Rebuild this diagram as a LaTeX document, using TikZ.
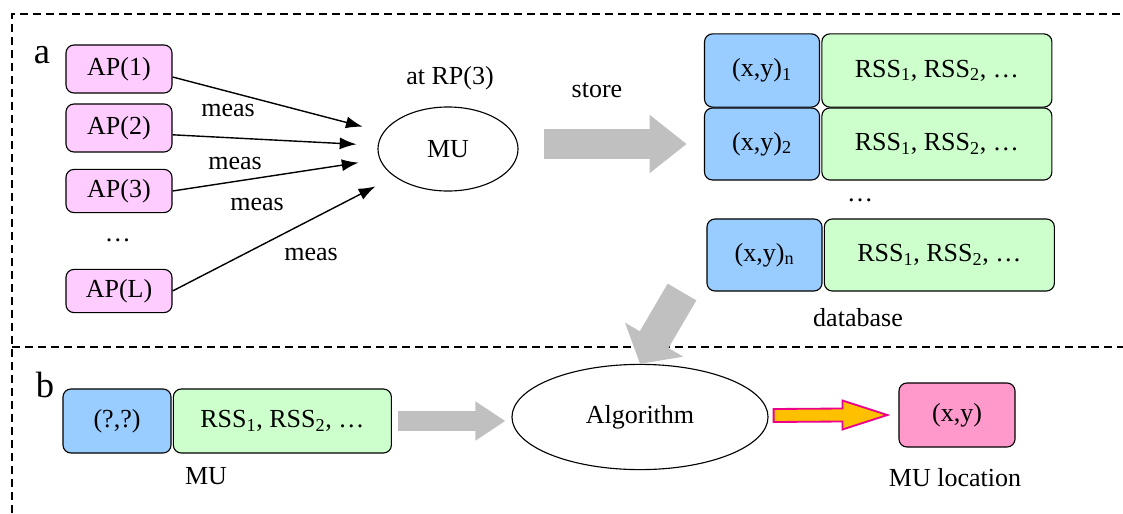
\documentclass[tikz,border=0pt]{standalone}
\usepackage{fontspec}
\setmainfont{Liberation Serif}
\usepackage{tikz}
\usetikzlibrary{positioning, calc, arrows.meta, %
    shapes.geometric % for the ellipses
    }
\definecolor{apPink}{HTML}{FFCCFF}
\definecolor{xyBlue}{HTML}{99CCFF}
\definecolor{rssGreen}{HTML}{CCFFCC}
\definecolor{locPink}{HTML}{FF99CC}
\definecolor{bigGray}{HTML}{C0C0C0}
\definecolor{locOrange}{HTML}{FFC000}

\begin{document}
\begin{tikzpicture}[
        x=0.025cm, y=-0.025cm,
        font=\fontsize{18.5}{21}\selectfont,
        apbox/.style={draw, line width=0.8pt, fill=apPink, rounded corners=0.2cm, minimum width=2.65cm, minimum height=1.2cm, inner sep=0pt},
        xybox/.style={draw, line width=0.8pt, fill=xyBlue, rounded corners=0.2cm, minimum width=2.875cm, minimum height=1.8cm, inner sep=0pt},
        rssbox/.style={draw, line width=0.8pt, fill=rssGreen, rounded corners=0.2cm, minimum width=5.75cm, minimum height=1.8cm, inner sep=0pt},
        oval/.style={draw, line width=0.8pt, ellipse, inner sep=0pt},
        measarrow/.style={-{Latex[length=0.42cm, width=0.3cm]}, line width=1pt, shorten >=0.53cm},
        bigarrow/.style={draw=bigGray, line width=0.83cm, -{Triangle[length=0.7cm, width=1.65cm]}},
        frame/.style={line width=0.8pt, dash pattern=on 0.2cm off 0.125cm}
        % sublabel/.style={},
    ]
        \def\bigfont{\fontsize{26}{28}\selectfont}
        \newcommand{\measArr}{edge[measarrow]}
        \newcommand{\rssList}{RSS\textsubscript{1}, RSS\textsubscript{2}, \dots}

        \useasboundingbox (0,0) rectangle (1123,513);
        \draw[frame] (12,513) |- (1123,14);
        \draw[frame] (12,347) -- (1123,347);
        \node[inner sep=0pt] (lblA) at (42,55) {\bigfont a};
        \node[inner sep=0pt] (lblB) at (45,385) {\bigfont b};

        % part a: measuring
        \node[apbox] (ap1) at (119,69) {AP(1)};
        \node[apbox] (ap2) at (119,128) {AP(2)};
        \node[apbox, minimum height=1.08cm] (ap3) at (119,191) {AP(3)};
        \node (apdots) at (118,240) {\dots};
        \node[apbox, minimum height=1.08cm] (apL) at (119,291) {AP(L)};
        \node[oval, minimum width=3.5cm, minimum height=2.1cm] (mu) at (448,149) {MU};
        \node (atrp) at (450,78) {at RP(3)};
        \draw
            ([yshift=-0.2cm]ap1.east) \measArr (mu)
            ([yshift=-0.17cm]ap2.east) \measArr (mu)
            (ap3.east) \measArr (mu)
            (apL.east) \measArr (mu)
            ;
        \node (meas1) at (228,110) {meas};
        \node (meas2) at (235,163) {meas};
        \node (meas3) at (257,204) {meas};
        \node (meas4) at (311,254) {meas};

        % database
        \node[xybox, minimum height=1.83cm] (xy1) at (762,70.5) {(x,y)\textsubscript{1}};
        \node[rssbox, minimum height=1.83cm, right=0.03cm of xy1] (rss1) {\rssList};
        \node[xybox] (xy2) at (762,144) {(x,y)\textsubscript{2}};
        \node[rssbox, right=0.03cm of xy2] (rss2) {\rssList};
        \node (dbdots) at (860,200) {\dots};
        \node[xybox] (xyn) at (764.5,255) {(x,y)\textsubscript{n}};
        \node[rssbox, right=0.03cm of xyn] (rssn) {\rssList};
        \node (dblabel) at (858,318) {database};
        \node (store) at (597,90) {store};
        \draw[bigarrow, line width=0.73cm, -{Triangle[length=0.93cm, width=1.4cm]}, shorten <=0.63cm, shorten >=0.43cm]
            (xy2.west -| mu.east) -- (xy2.west);

        % part b: positioning
        \node[xybox, minimum width=2.7cm, minimum height=1.6cm] (qq) at (117,421) {(?,?)};
        \node[rssbox, minimum width=5.45cm, minimum height=1.6cm, right=0.03cm of qq] (rssmu) {\rssList};
        \node (mulabel) at (206,476) {MU};
        \node[oval, minimum width=6.4cm, minimum height=2.63cm] (algo) at (640,417) {Algorithm};
        \node[draw, line width=0.8pt, fill=locPink, rounded corners=0.2cm, minimum width=2.9cm, minimum height=1.6cm] (loc) at (957,415) {(x,y)};
        \node (loclabel) at (955,478) {MU location};
        \coordinate (dbfoot) at (682,292);
        \draw[bigarrow, line width=0.48cm, -{Triangle[length=0.75cm, width=0.93cm]}, shorten <=0.15cm, shorten >=0.15cm]
            (rssmu.east) -- (rssmu.east -| algo.west);
        \draw[bigarrow] (dbfoot) -- (algo.north);
        \coordinate (os) at ($(algo.east)+(5,-1.5)$);
        \coordinate (oe) at ($(loc.west)+(-11,0)$);
        \draw[draw=magenta, fill=locOrange, line width=1.3pt, line join=miter]
            ($(os)+(0,-6.5)$) -- ($(oe)+(-45,-6.5)$) -- ($(oe)+(-45,-14.5)$) -- (oe)
            -- ($(oe)+(-45,14.5)$) -- ($(oe)+(-45,6.5)$) -- ($(os)+(0,6.5)$) -- cycle;
    \end{tikzpicture}
\end{document}
